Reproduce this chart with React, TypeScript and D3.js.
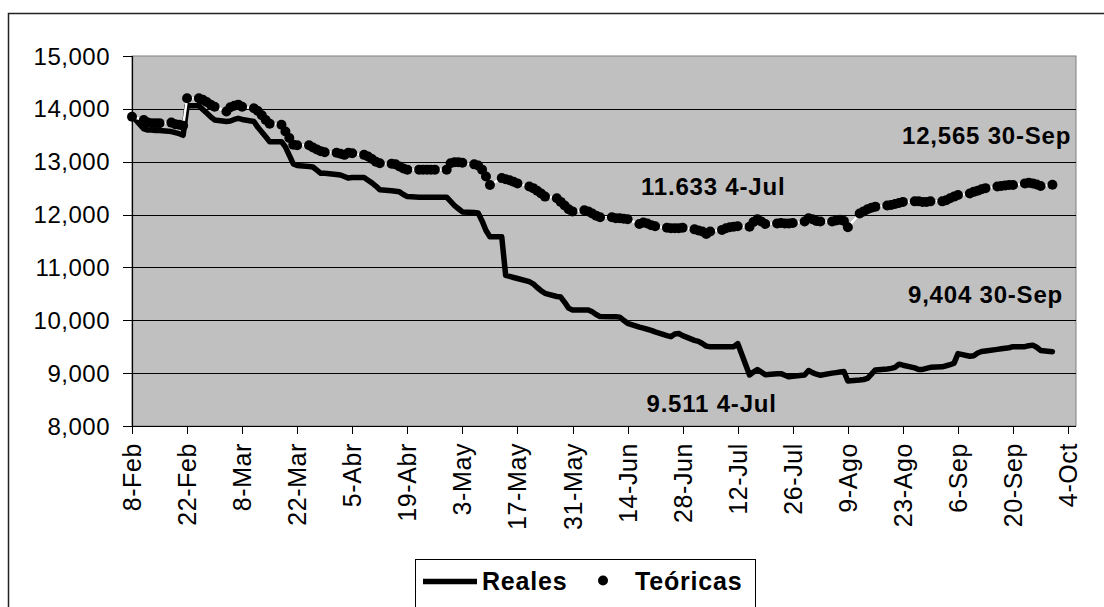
import React from "react";
import * as d3 from "d3";

// ---- Data (weekday values, 2002) ----
const realesFeb = [13870, 13620, 13600, 13600, 13590, 13590, 13570, 13550, 13530, 13500, 14060, 14060, 13990, 13920, 13850];
const realesMar = [13790, 13760, 13770, 13800, 13820, 13800, 13760, 13650, 13560, 13470, 13380, 13380, 13280, 13120, 12960, 12930, 12910, 12900, 12840, 12780, 12780];
const realesApr = [12760, 12750, 12720, 12690, 12700, 12700, 12650, 12600, 12540, 12470, 12450, 12440, 12430, 12380, 12340, 12330, 12330, 12330, 12330, 12330, 12330, 12250];
const realesMay = [12170, 12110, 12050, 12040, 12030, 11880, 11700, 11580, 11580, 10850, 10830, 10810, 10790, 10730, 10690, 10620, 10560, 10510, 10450, 10440, 10340, 10230, 10195];
const realesJun = [10195, 10195, 10160, 10110, 10070, 10068, 10068, 10060, 10000, 9943, 9870, 9850, 9830, 9810, 9780, 9710, 9690, 9740, 9750, 9710];
const realesJul = [9620, 9600, 9560, 9511, 9500, 9500, 9500, 9500, 9500, 9560, 8965, 9020, 9070, 9020, 8970, 8990, 8990, 8960, 8930, 8940, 8965, 9050, 9010];
const realesAug = [8980, 8960, 9000, 9010, 9020, 9030, 8850, 8870, 8880, 8900, 8980, 9060, 9080, 9090, 9110, 9170, 9150, 9100, 9070, 9070, 9090, 9110];
const realesSep = [9120, 9140, 9160, 9190, 9370, 9320, 9330, 9380, 9410, 9420, 9450, 9460, 9470, 9480, 9500, 9500, 9520, 9530, 9490, 9430, 9404];

const teoFeb = [13850, 13790, 13740, 13730, 13730, 13730, 13740, 13710, 13700, 13680, 14200, 14200, 14170, 14130, 14080];
const teoMar = [14040, 13950, 14030, 14060, 14080, 14040, 14010, 13960, 13880, 13790, 13720, 13700, 13570, 13450, 13320, 13310, 13310, 13270, 13230, 13200, 13180];
const teoApr = [13170, 13150, 13130, 13170, 13160, 13130, 13100, 13050, 13000, 12970, 12960, 12950, 12910, 12870, 12850, 12850, 12850, 12850, 12850, 12850, 12850, 12970];
const teoMay = [12990, 12990, 12980, 12950, 12930, 12850, 12720, 12560, 12690, 12670, 12650, 12620, 12590, 12530, 12500, 12450, 12400, 12340, 12310, 12240, 12170, 12100, 12060];
const teoJun = [12080, 12060, 12020, 11980, 11950, 11950, 11930, 11930, 11920, 11910, 11820, 11850, 11830, 11800, 11780, 11750, 11740, 11740, 11740, 11750];
const teoJul = [11720, 11700, 11680, 11633, 11680, 11710, 11740, 11760, 11770, 11780, 11770, 11860, 11910, 11870, 11820, 11830, 11840, 11830, 11830, 11840, 11870, 11930, 11910];
const teoAug = [11880, 11870, 11870, 11890, 11900, 11880, 11760, 12020, 12060, 12100, 12130, 12150, 12170, 12180, 12200, 12220, 12240, 12250, 12250, 12240, 12240, 12250];
const teoSep = [12250, 12270, 12310, 12340, 12370, 12400, 12430, 12450, 12480, 12500, 12530, 12540, 12550, 12560, 12560, 12590, 12600, 12590, 12570, 12540, 12565];

const tickLabels = ["8-Feb", "22-Feb", "8-Mar", "22-Mar", "5-Abr", "19-Abr", "3-May", "17-May", "31-May", "14-Jun", "28-Jun", "12-Jul", "26-Jul", "9-Ago", "23-Ago", "6-Sep", "20-Sep", "4-Oct"];
const yTicks = [8000, 9000, 10000, 11000, 12000, 13000, 14000, 15000];

const annotations = [
  { text: "12,565 30-Sep", x: 902, y: 143.5 },
  { text: "11.633 4-Jul", x: 641, y: 195 },
  { text: "9,404 30-Sep", x: 908, y: 303 },
  { text: "9.511 4-Jul", x: 646.5, y: 411.5 },
];

const seriesNames = ["Reales", "Teóricas"];

// ---- Layout ----
const W = 1104;
const H = 607;
const L = 132, T = 56, R = 1076, B = 426;
const FONT = "Arial, 'Liberation Sans', Helvetica, sans-serif";

const start = new Date(Date.UTC(2002, 1, 8));
const axisEnd = new Date(Date.UTC(2002, 9, 6));
const lastDay = new Date(Date.UTC(2002, 8, 30));

const weekdays = d3.utcDay.range(start, d3.utcDay.offset(lastDay, 1)).filter((d) => {
  const w = d.getUTCDay();
  return w !== 0 && w !== 6;
});

const realesAll = [...realesFeb, ...realesMar, ...realesApr, ...realesMay, ...realesJun, ...realesJul, ...realesAug, ...realesSep];
const teoAll = [...teoFeb, ...teoMar, ...teoApr, ...teoMay, ...teoJun, ...teoJul, ...teoAug, ...teoSep];

const reales = weekdays.map((d, i) => ({ date: d, v: realesAll[i] })).filter((p) => p.v !== undefined);
const teoricas = weekdays.map((d, i) => ({ date: d, v: teoAll[i] })).filter((p) => p.v !== undefined);

const tickDates = tickLabels.map((_, i) => d3.utcDay.offset(start, 14 * i));

export default function App() {
  const x = d3.scaleUtc().domain([start, axisEnd]).range([L, R]);
  const y = d3.scaleLinear().domain([8000, 15000]).range([B, T]);
  const line = d3
    .line<{ date: Date; v: number }>()
    .x((d) => x(d.date))
    .y((d) => y(d.v));
  const fmt = d3.format(",");

  return (
    <svg
      width={W}
      height={H}
      viewBox={`0 0 ${W} ${H}`}
      style={{ position: "absolute", left: 0, top: 0, display: "block", background: "#fff" }}
      fontFamily={FONT}
    >
      <rect x={0} y={0} width={W} height={H} fill="#fff" />
      {/* outer chart frame */}
      <rect x={8.5} y={13.5} width={1300} height={800} fill="#fff" stroke="#222" strokeWidth={1.5} />

      {/* plot area */}
      <rect x={L} y={T} width={R - L} height={B - T} fill="#C0C0C0" stroke="#808080" strokeWidth={1} />

      {/* gridlines */}
      {yTicks.filter((v) => v > 8000 && v < 15000).map((v) => (
        <line key={"g" + v} x1={L} x2={R} y1={Math.round(y(v)) + 0.5} y2={Math.round(y(v)) + 0.5} stroke="#000" strokeWidth={1} />
      ))}

      {/* axes */}
      <line x1={L + 0.5} x2={L + 0.5} y1={T} y2={B} stroke="#000" strokeWidth={1.2} />
      <line x1={L} x2={R} y1={B + 0.5} y2={B + 0.5} stroke="#000" strokeWidth={1.2} />

      {/* y ticks & labels */}
      {yTicks.map((v) => (
        <g key={"y" + v}>
          <line x1={123} x2={L} y1={Math.round(y(v)) + 0.5} y2={Math.round(y(v)) + 0.5} stroke="#000" strokeWidth={1} />
          <text x={110} y={y(v)} dy="0.36em" textAnchor="end" fontSize={24} letterSpacing={0.5} fill="#000">
            {fmt(v)}
          </text>
        </g>
      ))}

      {/* x ticks & labels */}
      {tickDates.map((d, i) => {
        const xx = Math.round(x(d)) + 0.5;
        return (
          <g key={"x" + i}>
            <line x1={xx} x2={xx} y1={B} y2={B + 8} stroke="#000" strokeWidth={1} />
            <text
              transform={`translate(${x(d)},443) rotate(-90)`}
              dy="0.36em"
              textAnchor="end"
              fontSize={25}
              letterSpacing={0.6}
              fill="#000"
            >
              {tickLabels[i]}
            </text>
          </g>
        );
      })}

      {/* Reales line */}
      <path d={line(reales) || ""} fill="none" stroke="#000" strokeWidth={5.5} strokeLinejoin="round" strokeLinecap="round" />

      {/* Teóricas: white line with black markers */}
      <path d={line(teoricas) || ""} fill="none" stroke="#fff" strokeWidth={2.5} />
      {teoricas.map((p, i) => (
        <circle key={"t" + i} cx={x(p.date)} cy={y(p.v)} r={5} fill="#000" />
      ))}

      {/* annotations */}
      {annotations.map((a, i) => (
        <text key={"a" + i} x={a.x} y={a.y} fontSize={24} fontWeight="bold" letterSpacing={0.8} fill="#000">
          {a.text}
        </text>
      ))}

      {/* legend */}
      <rect x={415.5} y={559.5} width={340} height={80} fill="#fff" stroke="#000" strokeWidth={1} />
      <line x1={423} x2={477} y1={581.5} y2={581.5} stroke="#000" strokeWidth={5.5} />
      <text x={482} y={589.5} fontSize={25} fontWeight="bold" letterSpacing={0.8} fill="#000">
        {seriesNames[0]}
      </text>
      <circle cx={603} cy={580.5} r={5} fill="#000" />
      <text x={635} y={589.5} fontSize={25} fontWeight="bold" letterSpacing={0.8} fill="#000">
        {seriesNames[1]}
      </text>
    </svg>
  );
}
